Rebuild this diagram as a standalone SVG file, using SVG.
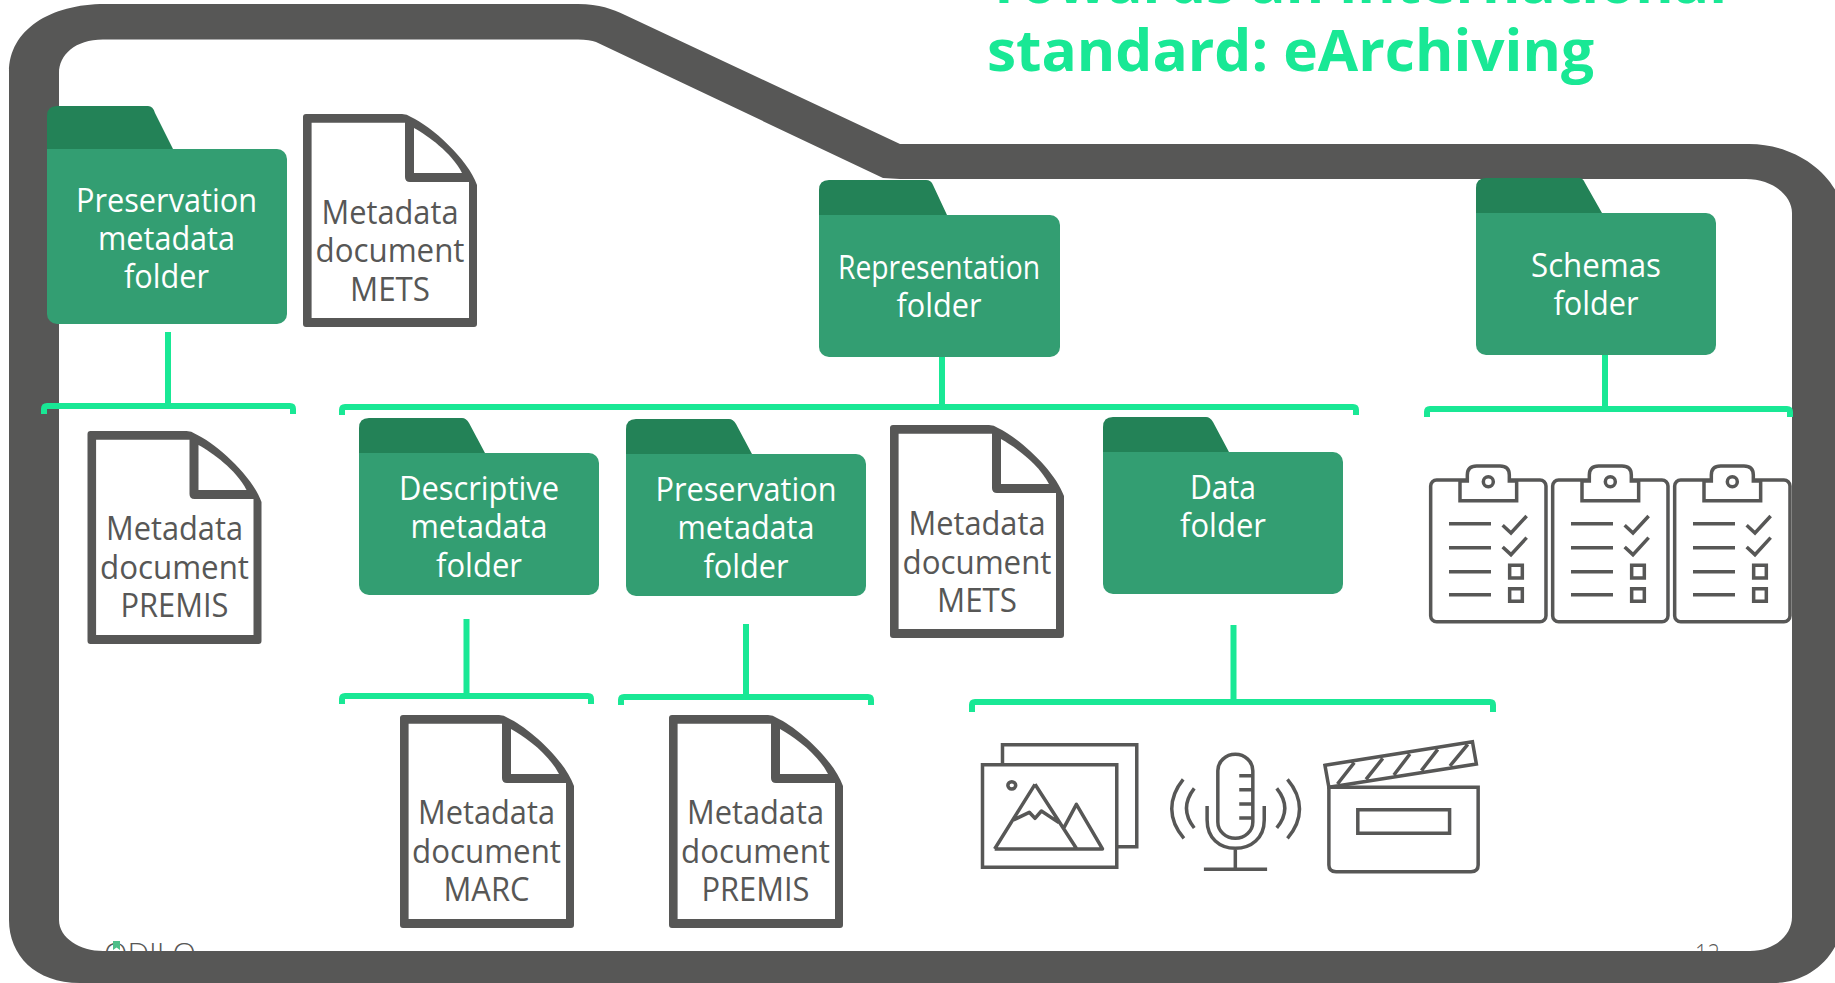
<svg xmlns="http://www.w3.org/2000/svg" width="1835" height="983" viewBox="0 0 1835 983">
<style>
.t{font-family:"Open Sans","Noto Sans","DejaVu Sans",sans-serif;text-anchor:middle;font-size:33px}
.ft{fill:#fff}
.dt{fill:#575756}
.tab{fill:#238257}.body{fill:#339e72}
.br{fill:none;stroke:#19e895;stroke-width:6}
.ic{fill:none;stroke:#575756;stroke-width:3.5;vector-effect:non-scaling-stroke}
.title{font-family:"Open Sans","Noto Sans",sans-serif;font-weight:700;fill:#19e895;font-size:58px}
</style>
<defs>
<g id="docshape">
<path fill="#575756" d="M0,3Q0,0 3,0H99Q104,0 108,3C128,12 165,45 174,71V210Q174,213 171,213H3Q0,213 0,210Z"/>
<path fill="#fff" d="M8.600,8.700H102V63Q102,68 107,68H166V204H8.600Z"/>
<path fill="#fff" d="M111,14V59H159C148,38 125,22 111,14Z"/>
</g>
<g id="clip">
<rect class="ic" x="62" y="90" width="346" height="425" rx="18"/>
<path class="ic" style="fill:#fff" d="M150,93V152H320V93H298V75Q298,48 270,48H200Q172,48 172,75V93Z"/>
<circle class="ic" cx="235" cy="95" r="15"/>
<path class="ic" d="M117,221H243M117,293H243M117,365H243M117,434H243M278,226L303,249L350,198M278,291L303,314L350,263"/>
<rect class="ic" x="299" y="346" width="38" height="38"/>
<rect class="ic" x="299" y="416" width="38" height="38"/>
</g>
</defs>
<rect width="1835" height="983" fill="#fff"/>
<g id="title"><text class="title" x="987" y="3" textLength="740" lengthAdjust="spacingAndGlyphs">Towards an international</text>
<text class="title" x="987" y="71" textLength="607" lengthAdjust="spacingAndGlyphs">standard: eArchiving</text></g>
<g id="logo"><text x="104" y="964" font-family="Open Sans, sans-serif" font-weight="300" font-size="30" fill="#575756" textLength="92" lengthAdjust="spacingAndGlyphs">ODILO</text><path d="M113,941h7v9l-3.500,-2.500l-3.500,2.500z" fill="#4fbf8a"/></g>
<g id="page-number"><text x="1695" y="962" font-family="Open Sans, sans-serif" font-weight="300" font-size="26" fill="#575756" textLength="25" lengthAdjust="spacingAndGlyphs">12</text></g>
<path id="frame" fill="#575756" fill-rule="evenodd" d="M105,4H578C600,4 612,9 625,15L900,144H1749C1800,144 1845,180 1845,225V905C1845,955 1810,983 1773,983H80C35,983 9,955 9,920V72C9,30 50,4 105,4ZM103,39.500C75,39.500 59,55 59,73V920C59,938 80,951 103,951H1750C1775,951 1792,935 1792,917V213C1792,195 1772,179 1746,179H900L883,178L596,42Q590,39.500 578,39.500Z"/>

<g id="connectors">
<path class="br" d="M168,332V406M44,414V409Q44,406 47,406H290Q293,406 293,409V414"/>
<path class="br" d="M942,357V407M342,415V410Q342,407 345,407H1353Q1356,407 1356,410V415"/>
<path class="br" d="M1605,355V409M1427,417V412Q1427,409 1430,409H1787Q1790,409 1790,412V417"/>
<path class="br" d="M466.500,619V696M342,704V699Q342,696 345,696H588Q591,696 591,699V704"/>
<path class="br" d="M746,624V697M621,705V700Q621,697 624,697H868Q871,697 871,700V705"/>
<path class="br" d="M1233.500,625V702M972,712V705Q972,702 975,702H1490Q1493,702 1493,705V712"/>
</g>

<g id="folder-preservation-1">
<path class="tab" d="M47,155V116Q47,106 57,106H148Q153,106 155,113L173,149V155Z"/>
<rect class="body" x="47" y="149" width="240" height="175" rx="10"/><path class="body" d="M47,149h20v20h-20z"/>
<text class="t ft" x="166.500" y="212" textLength="181" lengthAdjust="spacingAndGlyphs">Preservation</text>
<text class="t ft" x="166.500" y="250" textLength="137" lengthAdjust="spacingAndGlyphs">metadata</text>
<text class="t ft" x="166.500" y="288" textLength="85" lengthAdjust="spacingAndGlyphs">folder</text>
</g>
<g id="doc-mets-1"><use href="#docshape" x="303" y="114"/>
<text class="t dt" x="390" y="224" textLength="137" lengthAdjust="spacingAndGlyphs">Metadata</text>
<text class="t dt" x="390" y="262" textLength="149" lengthAdjust="spacingAndGlyphs">document</text>
<text class="t dt" x="390" y="301" textLength="80" lengthAdjust="spacingAndGlyphs">METS</text></g>

<g id="folder-representation">
<path class="tab" d="M819,221V190Q819,180 829,180H926Q931,180 933,185L947,215V221Z"/>
<rect class="body" x="819" y="215" width="241" height="142" rx="10"/><path class="body" d="M819,215h20v20h-20z"/>
<text class="t ft" x="939" y="279" textLength="202" lengthAdjust="spacingAndGlyphs">Representation</text>
<text class="t ft" x="939" y="317" textLength="85" lengthAdjust="spacingAndGlyphs">folder</text>
</g>
<g id="folder-schemas">
<path class="tab" d="M1476,219V188Q1476,178 1486,178H1579Q1583,178 1585,183L1602,213V219Z"/>
<rect class="body" x="1476" y="213" width="240" height="142" rx="10"/><path class="body" d="M1476,213h20v20h-20z"/>
<text class="t ft" x="1596" y="277" textLength="130" lengthAdjust="spacingAndGlyphs">Schemas</text>
<text class="t ft" x="1596" y="315" textLength="85" lengthAdjust="spacingAndGlyphs">folder</text>
</g>
<g id="folder-descriptive">
<path class="tab" d="M359,459V428Q359,418 369,418H462Q466,418 469,423L485,453V459Z"/>
<rect class="body" x="359" y="453" width="240" height="142" rx="10"/><path class="body" d="M359,453h20v20h-20z"/>
<text class="t ft" x="479" y="500" textLength="160" lengthAdjust="spacingAndGlyphs">Descriptive</text>
<text class="t ft" x="479" y="538" textLength="137" lengthAdjust="spacingAndGlyphs">metadata</text>
<text class="t ft" x="479" y="577" textLength="86" lengthAdjust="spacingAndGlyphs">folder</text>
</g>
<g id="folder-preservation-2">
<path class="tab" d="M626,460V429Q626,419 636,419H729Q733,419 736,424L752,454V460Z"/>
<rect class="body" x="626" y="454" width="240" height="142" rx="10"/><path class="body" d="M626,454h20v20h-20z"/>
<text class="t ft" x="746" y="501" textLength="181" lengthAdjust="spacingAndGlyphs">Preservation</text>
<text class="t ft" x="746" y="539" textLength="137" lengthAdjust="spacingAndGlyphs">metadata</text>
<text class="t ft" x="746" y="578" textLength="85" lengthAdjust="spacingAndGlyphs">folder</text>
</g>
<g id="folder-data">
<path class="tab" d="M1103,458V427Q1103,417 1113,417H1206Q1210,417 1213,422L1229,452V458Z"/>
<rect class="body" x="1103" y="452" width="240" height="142" rx="10"/><path class="body" d="M1103,452h20v20h-20z"/>
<text class="t ft" x="1223" y="499" textLength="66" lengthAdjust="spacingAndGlyphs">Data</text>
<text class="t ft" x="1223" y="537" textLength="86" lengthAdjust="spacingAndGlyphs">folder</text>
</g>
<g id="doc-premis-1"><use href="#docshape" x="87.500" y="431"/>
<text class="t dt" x="174.500" y="540" textLength="137" lengthAdjust="spacingAndGlyphs">Metadata</text>
<text class="t dt" x="174.500" y="579" textLength="149" lengthAdjust="spacingAndGlyphs">document</text>
<text class="t dt" x="174.500" y="617" textLength="108" lengthAdjust="spacingAndGlyphs">PREMIS</text></g>
<g id="doc-mets-2"><use href="#docshape" x="890" y="425"/>
<text class="t dt" x="977" y="535" textLength="137" lengthAdjust="spacingAndGlyphs">Metadata</text>
<text class="t dt" x="977" y="574" textLength="149" lengthAdjust="spacingAndGlyphs">document</text>
<text class="t dt" x="977" y="612" textLength="80" lengthAdjust="spacingAndGlyphs">METS</text></g>
<g id="doc-marc"><use href="#docshape" x="400" y="715"/>
<text class="t dt" x="486.500" y="824" textLength="137" lengthAdjust="spacingAndGlyphs">Metadata</text>
<text class="t dt" x="486.500" y="863" textLength="149" lengthAdjust="spacingAndGlyphs">document</text>
<text class="t dt" x="486.500" y="901" textLength="86" lengthAdjust="spacingAndGlyphs">MARC</text></g>
<g id="doc-premis-2"><use href="#docshape" x="669" y="715"/>
<text class="t dt" x="755.500" y="824" textLength="137" lengthAdjust="spacingAndGlyphs">Metadata</text>
<text class="t dt" x="755.500" y="863" textLength="149" lengthAdjust="spacingAndGlyphs">document</text>
<text class="t dt" x="755.500" y="901" textLength="108" lengthAdjust="spacingAndGlyphs">PREMIS</text></g>

<g id="clipboard-1" transform="translate(1410,450) scale(.3333)"><use href="#clip"/></g>
<g id="clipboard-2" transform="translate(1532,450) scale(.3333)"><use href="#clip"/></g>
<g id="clipboard-3" transform="translate(1654,450) scale(.3333)"><use href="#clip"/></g>

<g id="icon-images" transform="translate(950,680) scale(.3571,.3333)">
<path class="ic" d="M147,252V194H523V500H467"/>
<rect class="ic" x="91" y="254" width="376" height="308"/>
<circle class="ic" cx="173" cy="316" r="11"/>
<path class="ic" stroke-linejoin="round" d="M125,507H427L354,373L318,445M238,313L125,507M238,313L355,507M178,420L222,397L238,415L256,393L305,428"/>
</g>
<g id="icon-microphone" transform="translate(950,680) scale(.3571,.3333)">
<rect class="ic" x="750" y="223" width="98" height="252" rx="49"/>
<path class="ic" d="M810,287H848M810,329H848M810,372H848M810,414H848M720,378V420C720,475 755,505 799,505C843,505 880,475 880,420V378M799,505V568M711,568H888"/>
<path class="ic" d="M653,298C610,355 610,420 655,475M684,325C655,365 655,405 684,444M945,298C990,355 990,420 945,475M915,325C945,365 945,405 915,444"/>
</g>
<g id="icon-clapperboard" transform="translate(950,680) scale(.3571,.3333)">
<path class="ic" d="M1061,322H1479V555Q1479,575 1459,575H1081Q1061,575 1061,555Z"/>
<rect class="ic" x="1142" y="389" width="257" height="71"/>
<path class="ic" d="M1050,256L1463,185L1474,252L1061,322ZM1085,312L1132,248M1165,298L1212,235M1243,285L1288,222M1320,272L1366,208M1400,258L1450,193"/>
</g>
</svg>
